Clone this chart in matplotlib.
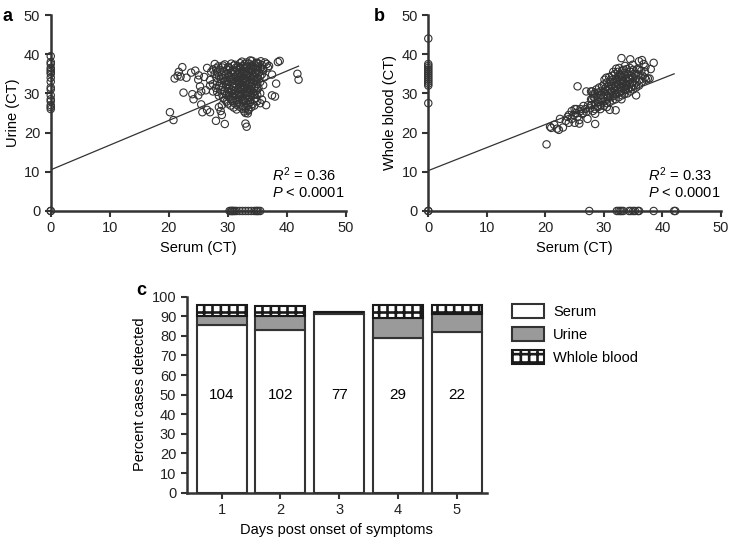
import numpy as np
import matplotlib
matplotlib.use("Agg")
import matplotlib.pyplot as plt

plt.rcParams['font.family'] = ['Liberation Sans', 'DejaVu Sans']
plt.rcParams['font.size'] = 10.5
plt.rcParams['hatch.linewidth'] = 1.9
plt.rcParams['mathtext.fontset'] = 'custom'
plt.rcParams['mathtext.it'] = 'Liberation Sans:italic'
plt.rcParams['mathtext.rm'] = 'Liberation Sans'

DARK = '#333333'

# panel a: serum CT vs urine CT (pairs)
urine_pts = [
    (32.4, 38.1), (33.2, 37.9), (34.1, 38.3), (34.8, 37.8), (35.6, 38.2), (36.3, 37.9), (33.8, 38.4),
    (29.5, 37.4), (30.6, 37.6), (31.2, 37.3), (32.1, 37.7), (32.8, 37.4), (33.6, 37.6), (34.5, 37.3),
    (35.2, 37.6), (36.6, 37.5), (27.8, 37.5), (28.4, 36.9), (29.2, 37.1), (30.1, 36.8), (31.0, 37.1),
    (31.8, 36.9), (32.6, 37.0), (33.1, 36.8), (34.0, 37.1), (35.1, 36.9), (35.8, 37.2), (37.0, 37.0),
    (28.0, 36.4), (29.1, 36.6), (30.3, 36.4), (31.4, 36.6), (32.2, 36.3), (33.3, 36.6), (33.9, 36.3),
    (34.6, 36.5), (35.5, 36.3), (36.8, 36.6), (27.5, 36.1), (28.7, 35.9), (29.8, 36.1), (30.8, 35.8),
    (31.6, 36.0), (32.5, 35.8), (33.6, 36.1), (34.2, 35.9), (35.0, 36.1), (36.0, 35.8), (28.2, 35.4),
    (29.4, 35.6), (30.5, 35.3), (31.2, 35.6), (32.0, 35.4), (32.9, 35.6), (33.5, 35.3), (34.6, 35.5),
    (35.3, 35.4), (27.8, 35.0), (29.0, 34.8), (30.0, 35.1), (31.0, 34.9), (31.8, 35.1), (32.5, 34.9),
    (33.2, 35.1), (34.0, 34.8), (34.8, 35.0), (35.8, 34.9), (28.5, 34.4), (29.6, 34.6), (30.5, 34.3),
    (31.5, 34.6), (32.2, 34.4), (33.0, 34.6), (33.8, 34.3), (34.5, 34.5), (35.5, 34.4), (28.1, 34.0),
    (29.2, 33.9), (30.2, 34.1), (31.0, 33.8), (32.0, 34.0), (32.8, 33.9), (33.5, 34.1), (34.2, 33.8),
    (35.1, 34.0), (36.2, 34.1), (27.0, 33.4), (28.8, 33.6), (29.8, 33.4), (30.8, 33.6), (31.8, 33.4),
    (32.5, 33.6), (33.2, 33.3), (34.0, 33.5), (34.8, 33.4), (28.2, 32.9), (29.5, 33.1), (30.5, 32.9),
    (31.5, 33.1), (32.2, 32.8), (33.0, 33.0), (33.8, 32.9), (34.5, 33.1), (35.5, 32.9), (27.5, 32.4),
    (29.0, 32.6), (30.0, 32.4), (31.2, 32.6), (32.0, 32.4), (32.8, 32.6), (33.5, 32.3), (34.2, 32.5),
    (35.0, 32.4), (28.5, 31.9), (29.8, 32.1), (30.8, 31.9), (31.5, 32.1), (32.5, 31.9), (33.2, 32.1),
    (34.0, 31.8), (34.8, 32.0), (36.0, 32.1), (28.0, 31.4), (29.2, 31.6), (30.2, 31.4), (31.0, 31.6),
    (32.0, 31.4), (32.8, 31.6), (33.5, 31.3), (34.5, 31.5), (35.2, 31.4), (28.8, 30.9), (30.0, 31.1),
    (30.8, 30.8), (31.8, 31.0), (32.5, 30.9), (33.2, 31.1), (34.0, 30.8), (35.0, 31.0), (28.2, 30.4),
    (29.5, 30.6), (30.5, 30.4), (31.2, 30.6), (32.2, 30.3), (33.0, 30.5), (33.8, 30.4), (34.8, 30.6),
    (29.0, 29.9), (30.2, 30.1), (31.0, 29.8), (31.8, 30.0), (32.5, 29.9), (33.5, 30.1), (34.5, 29.8),
    (35.5, 30.0), (28.5, 29.4), (29.8, 29.6), (30.8, 29.4), (31.5, 29.6), (32.2, 29.3), (33.2, 29.5),
    (34.0, 29.4), (35.0, 29.6), (29.2, 28.9), (30.2, 29.1), (31.2, 28.8), (32.0, 29.0), (33.0, 28.9),
    (33.8, 29.1), (34.8, 28.8), (29.5, 28.4), (30.5, 28.6), (31.5, 28.4), (32.5, 28.6), (33.5, 28.3),
    (34.5, 28.5), (35.8, 28.4), (29.8, 27.9), (30.8, 28.1), (31.8, 27.9), (32.8, 28.1), (33.8, 27.8),
    (35.0, 28.0), (30.0, 27.4), (31.0, 27.6), (32.0, 27.4), (33.0, 27.6), (34.2, 27.3), (35.5, 27.5),
    (30.5, 26.9), (31.5, 27.1), (32.5, 26.8), (33.5, 27.0), (34.5, 26.9), (31.0, 26.4), (32.0, 26.6),
    (33.0, 26.3), (34.0, 26.5), (31.5, 25.9), (32.5, 26.1), (33.5, 25.9), (32.8, 25.4), (33.5, 25.6),
    (33.0, 25.0), (33.4, 24.9),
    (20.2, 25.2), (20.8, 23.2), (21.0, 33.8), (21.5, 34.5), (21.7, 35.5), (22.3, 36.7), (22.5, 30.2),
    (22.0, 34.3), (23.8, 35.3), (24.0, 29.8), (24.2, 28.5), (24.5, 35.8), (25.0, 33.5), (25.1, 34.6),
    (25.0, 29.5), (25.5, 27.2), (25.5, 30.5), (25.7, 25.2), (26.3, 30.8), (26.5, 25.8), (26.5, 36.5),
    (27.0, 25.2), (27.0, 32.0), (27.5, 30.5), (28.0, 23.0), (28.5, 26.5), (28.8, 25.5), (29.0, 27.0),
    (29.0, 24.5), (29.5, 22.2), (33.0, 22.3), (33.2, 21.5), (36.5, 27.0), (37.5, 29.5), (38.0, 29.2),
    (38.2, 32.5), (38.5, 38.0), (38.8, 38.3), (41.8, 35.0), (42.0, 33.5), (36.0, 36.3), (35.0, 37.8),
    (37.5, 34.8), (26.0, 34.2), (25.3, 31.8), (23.0, 34.0), (27.2, 35.5),
    (31.3, 34.2), (32.7, 35.2), (33.4, 34.7), (32.3, 33.2), (33.7, 32.6), (31.7, 32.8), (32.9, 31.2),
    (33.9, 35.6), (32.1, 36.7), (34.3, 36.9), (33.3, 30.2), (31.9, 29.6), (34.2, 30.1), (32.6, 28.3),
]
urine_serum0 = [26.0, 26.5, 27.0, 28.0, 28.5, 29.5, 31.0, 31.5, 33.0, 34.0, 35.0, 35.5,
                36.0, 36.5, 37.5, 38.0, 39.5, 0.0]
serum_urine0 = [30.3, 30.5, 30.7, 30.8, 31.0, 31.2, 31.5, 32.0, 32.5, 33.0, 33.5, 34.0,
                34.5, 34.8, 35.0, 35.2, 35.5, 0.0]
fit_a = (10.5, 0.63)

# panel b: serum CT vs whole blood CT
blood_pts = [
    (28.1, 25.5), (27.9, 27.0), (28.0, 28.5), (28.2, 29.8), (27.8, 30.5),
    (28.5, 26.0), (28.6, 27.5), (28.4, 28.8), (28.5, 30.0), (28.7, 31.0),
    (29.0, 26.5), (29.1, 27.8), (28.9, 29.0), (29.0, 30.2), (29.2, 31.5),
    (29.5, 27.0), (29.6, 28.2), (29.4, 29.5), (29.5, 30.5), (29.7, 31.8), (29.4, 26.0),
    (30.0, 26.8), (30.1, 28.0), (29.9, 29.2), (30.0, 30.3), (30.2, 31.2), (30.0, 32.3), (30.1, 33.5),
    (30.5, 27.5), (30.6, 28.7), (30.4, 29.8), (30.5, 30.8), (30.7, 31.8), (30.5, 32.8), (30.4, 34.0),
    (31.0, 27.8), (31.1, 29.0), (30.9, 30.0), (31.0, 31.0), (31.2, 32.0), (31.0, 33.0), (30.9, 34.2),
    (31.5, 28.2), (31.6, 29.3), (31.4, 30.5), (31.5, 31.5), (31.7, 32.5), (31.5, 33.5), (31.4, 34.5), (31.6, 35.5),
    (32.0, 28.5), (32.1, 29.8), (31.9, 30.8), (32.0, 31.8), (32.2, 32.8), (32.0, 33.8), (31.9, 35.0), (32.1, 36.3),
    (32.5, 29.0), (32.6, 30.2), (32.4, 31.2), (32.5, 32.2), (32.7, 33.2), (32.5, 34.2), (32.4, 35.5), (32.6, 36.5),
    (33.0, 28.5), (33.1, 29.5), (32.9, 30.5), (33.0, 31.5), (33.2, 32.5), (33.0, 33.5), (32.9, 34.5), (33.1, 35.8),
    (33.5, 29.8), (33.6, 30.8), (33.4, 31.8), (33.5, 32.8), (33.7, 33.8), (33.5, 34.8), (33.4, 36.0), (33.6, 37.0),
    (34.0, 30.0), (34.1, 31.0), (33.9, 32.0), (34.0, 33.0), (34.2, 34.0), (34.0, 35.0), (33.9, 36.2),
    (34.5, 30.5), (34.6, 31.5), (34.4, 32.5), (34.5, 33.5), (34.7, 34.5), (34.5, 35.5), (34.4, 36.5),
    (35.0, 31.0), (35.1, 32.0), (34.9, 33.0), (35.0, 34.0), (35.2, 35.0), (35.0, 36.0), (34.9, 37.3),
    (35.5, 31.5), (35.6, 32.8), (35.4, 33.8), (35.5, 35.0), (35.7, 36.2),
    (36.0, 32.0), (36.1, 33.5), (35.9, 34.8), (36.0, 36.0),
    (36.5, 33.0), (36.6, 34.5), (36.4, 35.8), (37.0, 34.0), (37.1, 36.8),
    (31.8, 31.2), (32.3, 32.4), (32.8, 31.7), (33.3, 33.1), (33.8, 32.3), (32.2, 33.4), (33.2, 34.1),
    (31.2, 30.4), (30.7, 29.3), (34.3, 33.8), (34.8, 32.7), (33.7, 31.2), (31.3, 31.9), (32.7, 34.8),
    (24.8, 24.5), (25.2, 25.0), (25.5, 24.0), (26.0, 25.5), (26.3, 24.8), (26.8, 26.0), (27.0, 25.3),
    (27.3, 27.0), (27.6, 26.2), (27.8, 28.5), (28.2, 29.2), (26.5, 26.8), (25.8, 23.2), (24.5, 23.5),
    (23.8, 24.0), (25.0, 26.0),
    (20.2, 17.0), (20.8, 21.5), (21.0, 21.2), (21.5, 22.0), (22.0, 21.0), (22.3, 20.7), (22.5, 23.5),
    (23.0, 21.3), (23.5, 23.0), (24.0, 22.5), (24.0, 24.5), (24.5, 25.5), (25.0, 22.5), (25.3, 26.0),
    (25.5, 31.8), (25.8, 22.3), (26.0, 26.0), (26.5, 25.0), (27.0, 30.5), (27.2, 23.5), (27.8, 27.0),
    (28.5, 22.2), (28.0, 30.5), (28.5, 24.8), (29.0, 26.8), (29.5, 29.5), (30.5, 26.5), (31.0, 25.8),
    (32.0, 25.7), (33.0, 39.0), (34.5, 38.7), (35.5, 29.5), (36.0, 38.2), (36.5, 38.5), (36.8, 37.5),
    (37.0, 35.5), (37.2, 33.5), (37.5, 33.8), (38.5, 37.8), (38.0, 36.2), (37.8, 33.8),
]
blood_serum0 = [44.0, 27.5, 32.0, 32.5, 33.0, 33.5, 34.0, 34.5, 35.0, 35.5, 36.0, 36.5,
                37.0, 37.5, 0.0]
serum_blood0 = [27.5, 32.2, 32.5, 32.8, 33.0, 33.3, 34.3, 34.6, 35.0, 35.3, 35.8, 36.0,
                38.5, 42.0, 42.2, 0.0]
fit_b = (10.3, 0.588)

# panel c: percent of cases detected by sample type
days = [1, 2, 3, 4, 5]
serum_pct = [85.5, 83.0, 91.0, 79.0, 82.0]
urine_pct = [4.5, 7.0, 1.0, 10.0, 9.0]
blood_pct = [6.0, 5.0, 0.0, 7.0, 4.5]
n_cases = [104, 102, 77, 29, 22]


def style_axes(ax):
    for side in ['top', 'right']:
        ax.spines[side].set_visible(False)
    for side in ['left', 'bottom']:
        ax.spines[side].set_linewidth(1.8)
        ax.spines[side].set_color(DARK)
    ax.tick_params(direction='out', length=4, width=1.5, color=DARK, labelcolor='#222222')


def scatter_panel(ax, pts, zero_y, zero_x, fit, ylabel, r2):
    xs = [p[0] for p in pts]
    ys = [p[1] for p in pts]
    kw = dict(s=28, facecolors='none', edgecolors=DARK, linewidths=0.8, clip_on=False, zorder=3)
    ax.scatter(xs, ys, **kw)
    ax.scatter([0] * len(zero_y), zero_y, **kw)
    ax.scatter(zero_x, [0] * len(zero_x), **kw)
    line_x = np.array([0, 42])
    ax.plot(line_x, fit[0] + fit[1] * line_x, color=DARK, lw=0.9, zorder=2)
    ax.set_xlim(0, 50)
    ax.set_ylim(0, 50)
    ax.set_xticks(range(0, 51, 10))
    ax.set_yticks(range(0, 51, 10))
    ax.set_xlabel('Serum (CT)', labelpad=4)
    ax.set_ylabel(ylabel, labelpad=3)
    ax.text(37.5, 9.2, r'$R^2$ = ' + r2, va='center', ha='left')
    ax.text(37.5, 4.6, r'$P$ < 0.0001', va='center', ha='left')
    style_axes(ax)


fig = plt.figure(figsize=(7.31, 5.40), dpi=100)

ax_a = fig.add_axes([0.0694, 0.6093, 0.4036, 0.3629])
scatter_panel(ax_a, urine_pts, urine_serum0, serum_urine0, fit_a, 'Urine (CT)', '0.36')

ax_b = fig.add_axes([0.5859, 0.6093, 0.4004, 0.3629])
scatter_panel(ax_b, blood_pts, blood_serum0, serum_blood0, fit_b, 'Whole blood (CT)', '0.33')

ax_c = fig.add_axes([0.2554, 0.0876, 0.4104, 0.3630])
bw = 0.85
edge = dict(edgecolor=DARK, linewidth=1.5)
b1 = ax_c.bar(days, serum_pct, bw, color='white', label='Serum', **edge)
b2 = ax_c.bar(days, urine_pct, bw, bottom=serum_pct, color='#9a9a9a', label='Urine', **edge)
tops = [s + u for s, u in zip(serum_pct, urine_pct)]
b3 = ax_c.bar(days, blood_pct, bw, bottom=tops, color='white', hatch='++', label='Whlole blood',
              edgecolor='#1a1a1a', linewidth=1.5)
for d, n in zip(days, n_cases):
    ax_c.text(d, 50, str(n), ha='center', va='center', fontsize=11)
ax_c.set_xlim(0.404, 5.51)
ax_c.set_ylim(0, 100)
ax_c.set_yticks(range(0, 101, 10))
ax_c.set_xticks(days)
ax_c.set_xlabel('Days post onset of symptoms', labelpad=4)
ax_c.set_ylabel('Percent cases detected', labelpad=3)
style_axes(ax_c)
fig.legend(handles=[b1, b2, b3], loc='upper left', bbox_to_anchor=(0.683, 0.462),
           frameon=False, handlelength=2.2, handleheight=1.1, labelspacing=0.55, handletextpad=0.6)

fig.text(0.003, 0.985, 'a', fontsize=13, fontweight='bold', va='top')
fig.text(0.512, 0.985, 'b', fontsize=13, fontweight='bold', va='top')
fig.text(0.186, 0.478, 'c', fontsize=13, fontweight='bold', va='top')

fig.savefig('out.png', dpi=100)
